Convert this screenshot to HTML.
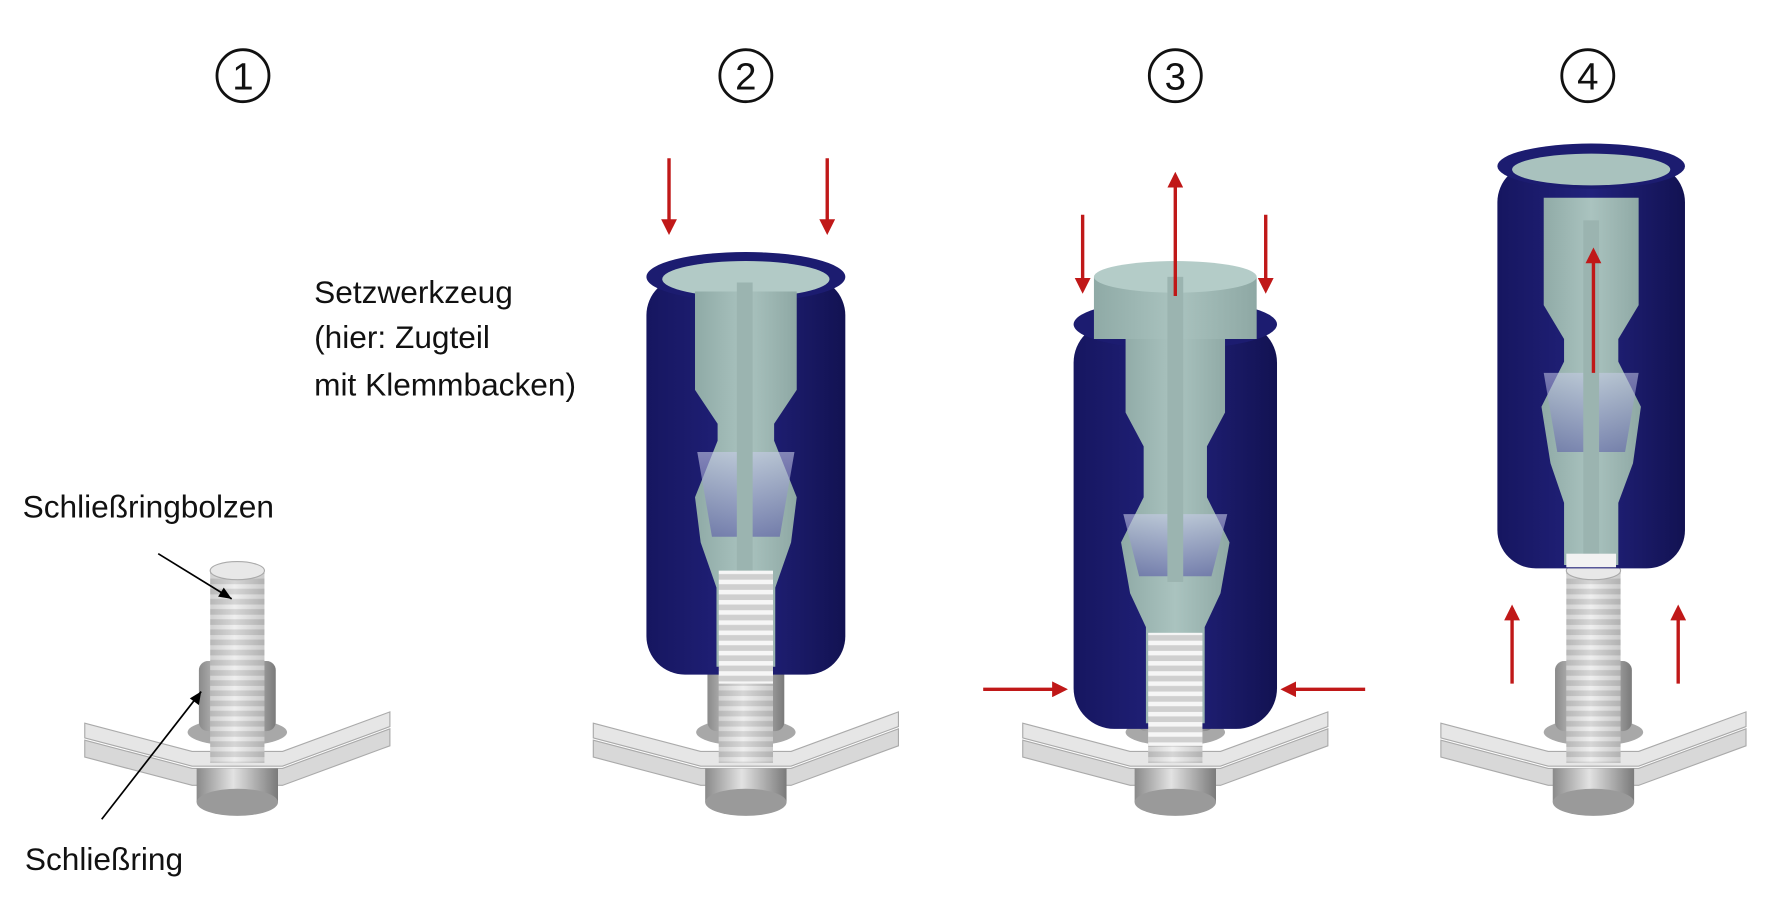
<!DOCTYPE html>
<html><head><meta charset="utf-8"><style>
html,body{margin:0;padding:0;background:#fff;width:1772px;height:904px;overflow:hidden}
svg{display:block}
text{font-family:"Liberation Sans",sans-serif;fill:#111}
</style></head><body>
<svg width="1772" height="904" viewBox="0 0 1568 800" preserveAspectRatio="none" xmlns="http://www.w3.org/2000/svg">
<defs>
<linearGradient id="metal" x1="0" x2="1"><stop offset="0" stop-color="#8a8a8a"/><stop offset=".45" stop-color="#e2e2e2"/><stop offset="1" stop-color="#7a7a7a"/></linearGradient>
<linearGradient id="blue" x1="0" x2="1"><stop offset="0" stop-color="#161660"/><stop offset=".5" stop-color="#22227c"/><stop offset="1" stop-color="#121252"/></linearGradient>
<linearGradient id="teal" x1="0" x2="1"><stop offset="0" stop-color="#8faaa6"/><stop offset=".5" stop-color="#aac3bf"/><stop offset="1" stop-color="#8ea8a4"/></linearGradient>
<linearGradient id="glow" x1="0" y1="0" x2="0" y2="1"><stop offset="0" stop-color="#c8cce8"/><stop offset="1" stop-color="#5a5aa8"/></linearGradient>
<pattern id="thr" width="10" height="9" patternUnits="userSpaceOnUse"><rect width="10" height="9" fill="#cfcfcf"/><rect y="0" width="10" height="4" fill="#f6f6f6"/></pattern>
<marker id="ar" markerWidth="14" markerHeight="14" refX="11" refY="7" orient="auto" markerUnits="userSpaceOnUse"><path d="M0,0 L14,7 L0,14z" fill="#c01818"/></marker>
<g id="asm">
  <polygon points="-135,-15 -40,10 40,10 135,-25 135,-10 40,25 -40,25 -135,0" fill="#d8d8d8" stroke="#aaa" stroke-width="1"/>
  <polygon points="-135,-30 -40,-5 40,-5 135,-40 135,-27 40,8 -40,8 -135,-17" fill="#e6e6e6" stroke="#aaa" stroke-width="1"/>
  <rect x="-36" y="10" width="72" height="30" fill="url(#metal)"/>
  <ellipse cx="0" cy="40" rx="36" ry="12" fill="#9a9a9a"/>
  <ellipse cx="0" cy="-22" rx="44" ry="12" fill="#a8a8a8"/>
  <rect x="-34" y="-85" width="68" height="62" rx="8" fill="url(#metal)"/>
  <rect x="-24" y="-165" width="48" height="170" fill="url(#thr)"/>
  <rect x="-24" y="-165" width="48" height="170" fill="url(#metal)" opacity=".35"/>
  <ellipse cx="0" cy="-165" rx="24" ry="8" fill="#e8e8e8" stroke="#aaa"/>
</g>
</defs>

<rect width="1568" height="800" fill="#fff"/>
<g fill="none" stroke="#111" stroke-width="2.5">
<circle cx="215" cy="67" r="23"/><circle cx="660" cy="67" r="23"/><circle cx="1040" cy="67" r="23"/><circle cx="1405" cy="67" r="23"/>
</g>
<g font-size="34" text-anchor="middle">
<text x="215" y="79">1</text><text x="660" y="79">2</text><text x="1040" y="79">3</text><text x="1405" y="79">4</text>
</g>

<text x="20" y="458" font-size="28">Schließringbolzen</text>
<text x="22" y="770" font-size="28">Schließring</text>
<text x="278" y="268" font-size="28">Setzwerkzeug</text>
<text x="278" y="308" font-size="28">(hier: Zugteil</text>
<text x="278" y="350" font-size="28">mit Klemmbacken)</text>

<use href="#asm" transform="translate(210,670)"/>
<use href="#asm" transform="translate(660,670)"/>
<use href="#asm" transform="translate(1040,670)"/>
<use href="#asm" transform="translate(1410,670)"/>

<line x1="140" y1="490" x2="205" y2="530" stroke="#000" stroke-width="1.5"/><path d="M205,530 l-12,-2 l5,-8z" fill="#000"/>
<line x1="90" y1="725" x2="178" y2="612" stroke="#000" stroke-width="1.5"/><path d="M178,612 l-2,12 l-8,-6z" fill="#000"/>

<g>
  <rect x="572" y="245" width="176" height="352" rx="34" fill="url(#blue)"/>
  <ellipse cx="660" cy="245" rx="88" ry="22" fill="#1c1c70"/>
  <ellipse cx="660" cy="247" rx="74" ry="16" fill="#b2cac6"/>
  <polygon points="615,258 705,258 705,345 685,375 685,390 705,440 700,480 686,520 686,590 634,590 634,520 620,480 615,440 635,390 635,375 615,345" fill="url(#teal)"/>
  <polygon points="617,400 703,400 690,475 630,475" fill="url(#glow)" opacity=".6"/>
  <rect x="652" y="250" width="14" height="260" fill="#9bb4b0"/>
  <rect x="636" y="505" width="48" height="100" fill="url(#thr)"/>
</g>
<line x1="592" y1="140" x2="592" y2="205" stroke="#c01818" stroke-width="3" marker-end="url(#ar)"/>
<line x1="732" y1="140" x2="732" y2="205" stroke="#c01818" stroke-width="3" marker-end="url(#ar)"/>

<g>
  <rect x="950" y="285" width="180" height="360" rx="36" fill="url(#blue)"/>
  <ellipse cx="1040" cy="287" rx="90" ry="22" fill="#1c1c70"/>
  <rect x="968" y="245" width="144" height="55" fill="url(#teal)"/>
  <ellipse cx="1040" cy="245" rx="72" ry="14" fill="#b4ccc8"/>
  <polygon points="996,300 1084,300 1084,365 1068,395 1068,440 1088,480 1080,525 1066,555 1066,640 1014,640 1014,555 1000,525 992,480 1012,440 1012,395 996,365" fill="url(#teal)"/>
  <polygon points="994,455 1086,455 1072,510 1008,510" fill="url(#glow)" opacity=".6"/>
  <rect x="1033" y="245" width="14" height="270" fill="#9bb4b0"/>
  <rect x="1016" y="560" width="48" height="100" fill="url(#thr)"/>
</g>
<line x1="958" y1="190" x2="958" y2="257" stroke="#c01818" stroke-width="3" marker-end="url(#ar)"/>
<line x1="1120" y1="190" x2="1120" y2="257" stroke="#c01818" stroke-width="3" marker-end="url(#ar)"/>
<line x1="1040" y1="262" x2="1040" y2="155" stroke="#c01818" stroke-width="3" marker-end="url(#ar)"/>
<line x1="870" y1="610" x2="942" y2="610" stroke="#c01818" stroke-width="3" marker-end="url(#ar)"/>
<line x1="1208" y1="610" x2="1136" y2="610" stroke="#c01818" stroke-width="3" marker-end="url(#ar)"/>

<g>
  <rect x="1325" y="145" width="166" height="358" rx="34" fill="url(#blue)"/>
  <ellipse cx="1408" cy="147" rx="83" ry="20" fill="#1c1c70"/>
  <ellipse cx="1408" cy="150" rx="70" ry="14" fill="#a9c2be"/>
  <polygon points="1366,175 1450,175 1450,270 1432,300 1432,320 1452,360 1445,410 1432,445 1432,500 1384,500 1384,445 1372,410 1364,360 1384,320 1384,300 1366,270" fill="url(#teal)"/>
  <polygon points="1366,330 1450,330 1438,400 1378,400" fill="url(#glow)" opacity=".55"/>
  <rect x="1401" y="195" width="14" height="300" fill="#9bb4b0"/>
  <rect x="1386" y="490" width="44" height="12" fill="#f2f2f2"/>
</g>
<line x1="1338" y1="605" x2="1338" y2="538" stroke="#c01818" stroke-width="3" marker-end="url(#ar)"/>
<line x1="1485" y1="605" x2="1485" y2="538" stroke="#c01818" stroke-width="3" marker-end="url(#ar)"/>
<line x1="1410" y1="330" x2="1410" y2="222" stroke="#c01818" stroke-width="3" marker-end="url(#ar)"/>
</svg>
</body></html>
